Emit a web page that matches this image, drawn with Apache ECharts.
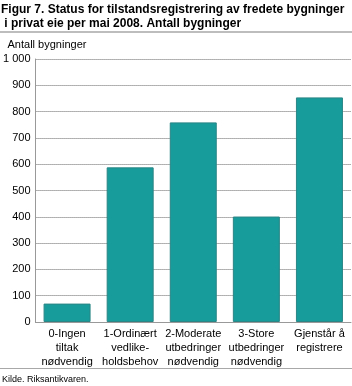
<!DOCTYPE html>
<html>
<head>
<meta charset="utf-8">
<script src="https://cdn.jsdelivr.net/npm/echarts@6/dist/echarts.min.js"></script>
<style>
  html, body { margin: 0; padding: 0; background: #fff; }
  #chart { width: 352px; height: 386px; }
</style>
</head>
<body>
<div id="chart"></div>
<script>
  // data
  const categories = [
    '0-Ingen\ntiltak\nnødvendig',
    '1-Ordinært\nvedlike-\nholdsbehov',
    '2-Moderate\nutbedringer\nnødvendig',
    '3-Store\nutbedringer\nnødvendig',
    'Gjenstår å\nregistrere'
  ];
  const antall = [70, 588, 759, 401, 854];
  const yTicks = { min: 0, max: 1000, interval: 100 };

  const chart = echarts.init(document.getElementById('chart'));
  const font = 'Liberation Sans, Arial, sans-serif';

  chart.setOption({
    animation: false,
    textStyle: { fontFamily: font },
    title: {
      text: 'Figur 7. Status for tilstandsregistrering av fredete bygninger\n i privat eie per mai 2008. Antall bygninger',
      left: 1,
      top: 3,
      padding: 0,
      textStyle: { fontSize: 12, fontWeight: 'bold', color: '#000', lineHeight: 14, fontFamily: font }
    },
    graphic: [
      { id: 'kilde', type: 'text', left: 2, top: 375, style: { text: 'Kilde. Riksantikvaren.', font: '9px ' + font, fill: '#000' } }
    ],
    grid: { left: 31, right: 1, top: 59, bottom: 64 },
    xAxis: {
      type: 'category',
      data: categories,
      axisLine: { lineStyle: { color: '#999' } },
      axisTick: { show: false },
      axisLabel: { color: '#000', fontSize: 11, lineHeight: 14, margin: 5, interval: 0 }
    },
    yAxis: {
      type: 'value',
      min: yTicks.min,
      max: yTicks.max,
      interval: yTicks.interval,
      name: 'Antall bygninger',
      nameLocation: 'end',
      nameGap: 9,
      nameTextStyle: { color: '#000', fontSize: 11, align: 'left', padding: [0, 0, 0, -28] },
      axisLine: { show: true, lineStyle: { color: '#999' } },
      axisTick: { show: false },
      axisLabel: {
        color: '#000', fontSize: 11, margin: 5,
        formatter: v => String(v).replace(/\B(?=(\d{3})+(?!\d))/g, ' ')
      },
      splitLine: { show: true, lineStyle: { color: '#666', type: 'dotted', width: 1 } }
    },
    series: [{
      type: 'bar',
      data: antall,
      barWidth: 47,
      clip: false,
      itemStyle: { color: '#179b9b', borderColor: '#2b8585', borderWidth: 1 },
      // page rules above and below the chart body
      markLine: {
        silent: true,
        symbol: 'none',
        label: { show: false },
        data: [
          [{ x: 0, y: 32, lineStyle: { color: '#bdbdbd', width: 2, type: 'solid' } }, { x: 352, y: 32 }],
          [{ x: 0, y: 368.5, lineStyle: { color: '#a8a8a8', width: 1, type: 'solid' } }, { x: 352, y: 368.5 }]
        ]
      }
    }]
  });
</script>
</body>
</html>
